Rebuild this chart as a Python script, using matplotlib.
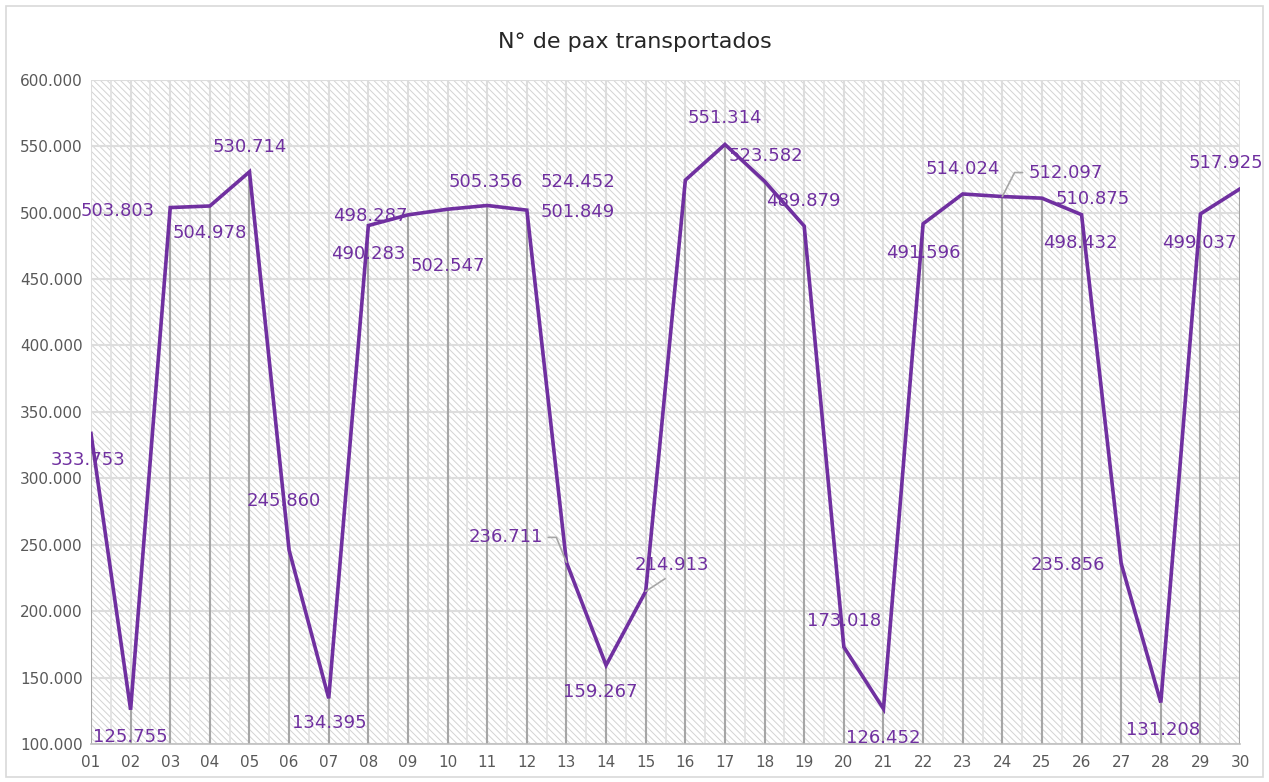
import matplotlib
matplotlib.use("Agg")
import matplotlib.pyplot as plt
from matplotlib.patches import Rectangle
from matplotlib.ticker import FuncFormatter, MultipleLocator

days = ["01", "02", "03", "04", "05", "06", "07", "08", "09", "10",
        "11", "12", "13", "14", "15", "16", "17", "18", "19", "20",
        "21", "22", "23", "24", "25", "26", "27", "28", "29", "30"]
pax = [333753, 125755, 503803, 504978, 530714, 245860, 134395, 490283, 498287, 502547,
       505356, 501849, 236711, 159267, 214913, 524452, 551314, 523582, 489879, 173018,
       126452, 491596, 514024, 512097, 510875, 498432, 235856, 131208, 499037, 517925]

# label offsets from each point, in pixels (x right, y down)
label_offsets = [(-3, 27), (0, 27), (-53, 3), (0, 27), (0, -25), (-5, -49), (1, 25),
                 (0, 28), (-38, 1), (0, 57), (-1, -23), (51, 2), (-61, -25), (-6, 27),
                 (26, -26), (-107, 2), (0, -26), (1, -25), (-1, -25), (0, -26), (0, 29),
                 (0, 29), (0, -25), (63, -24), (51, 1), (-1, 28), (-53, 1), (2, 27),
                 (-1, 29), (-14, -26)]
# leader lines: (text anchor, connection style)
leaders = {
    "13": ((1.0, 0.5), "angle,angleA=0,angleB=112,rad=0"),
    "15": ((0.5, 0.0), "arc3,rad=0"),
    "24": ((0.0, 0.5), "angle,angleA=180,angleB=63,rad=0"),
}

PURPLE = "#7030A0"
GREY_TXT = "#595959"

fig = plt.figure(figsize=(12.69, 7.82), dpi=100)
fig.patches.append(Rectangle((0.005, 0.007), 0.99, 0.985, transform=fig.transFigure,
                             fill=False, edgecolor="#D9D9D9", linewidth=1.2))
ax = fig.add_axes([0.0717, 0.0486, 0.9055, 0.8494])

x = list(range(len(days)))
ax.set_xlim(0, len(days) - 1)
ax.set_ylim(100000, 600000)

plt.rcParams["hatch.color"] = "#D3D3D3"
plt.rcParams["hatch.linewidth"] = 0.7
ax.add_patch(Rectangle((0, 0), 1, 1, transform=ax.transAxes, facecolor="white",
                       edgecolor="#D3D3D3", hatch="\\\\\\\\\\", linewidth=0, zorder=0))

ax.yaxis.set_major_locator(MultipleLocator(50000))
ax.xaxis.set_minor_locator(MultipleLocator(0.5))
ax.yaxis.set_major_formatter(FuncFormatter(lambda v, p: f"{v:,.0f}".replace(",", ".")))
ax.set_xticks(x)
ax.set_xticklabels(days)
ax.grid(True, which="major", color="#DDDDDD", linewidth=1.5, zorder=1)
ax.grid(True, which="minor", axis="x", color="#E2E2E2", linewidth=1.3, zorder=1)
ax.set_axisbelow(True)
ax.tick_params(which="both", length=0)
ax.tick_params(axis="y", labelsize=11, labelcolor=GREY_TXT, pad=6)
ax.tick_params(axis="x", labelsize=11, labelcolor=GREY_TXT, pad=8)
for side in ("top", "right", "left"):
    ax.spines[side].set_visible(False)
ax.spines["bottom"].set_color("#BFBFBF")
ax.spines["bottom"].set_linewidth(1.2)

ax.vlines(x, 100000, pax, color="#A6A6A6", linewidth=1.5, zorder=2)
ax.plot(x, pax, color=PURPLE, linewidth=2.6, zorder=3, solid_joinstyle="miter")

for xi, day, value, (dx, dy) in zip(x, days, pax, label_offsets):
    text = f"{value:,.0f}".replace(",", ".")
    arrow = None
    if day in leaders:
        relpos, style = leaders[day]
        arrow = dict(arrowstyle="-", color="#A6A6A6", linewidth=1.2, shrinkA=2, shrinkB=0,
                     relpos=relpos, connectionstyle=style)
    ax.annotate(text, (xi, value), xytext=(dx * 0.72, -dy * 0.72), textcoords="offset points",
                ha="center", va="center", fontsize=13, color=PURPLE, zorder=4,
                arrowprops=arrow)

fig.text(0.5, 0.946, "N° de pax transportados", ha="center", va="center",
         fontsize=16, color="#262626")

fig.savefig("out.png", dpi=100)
